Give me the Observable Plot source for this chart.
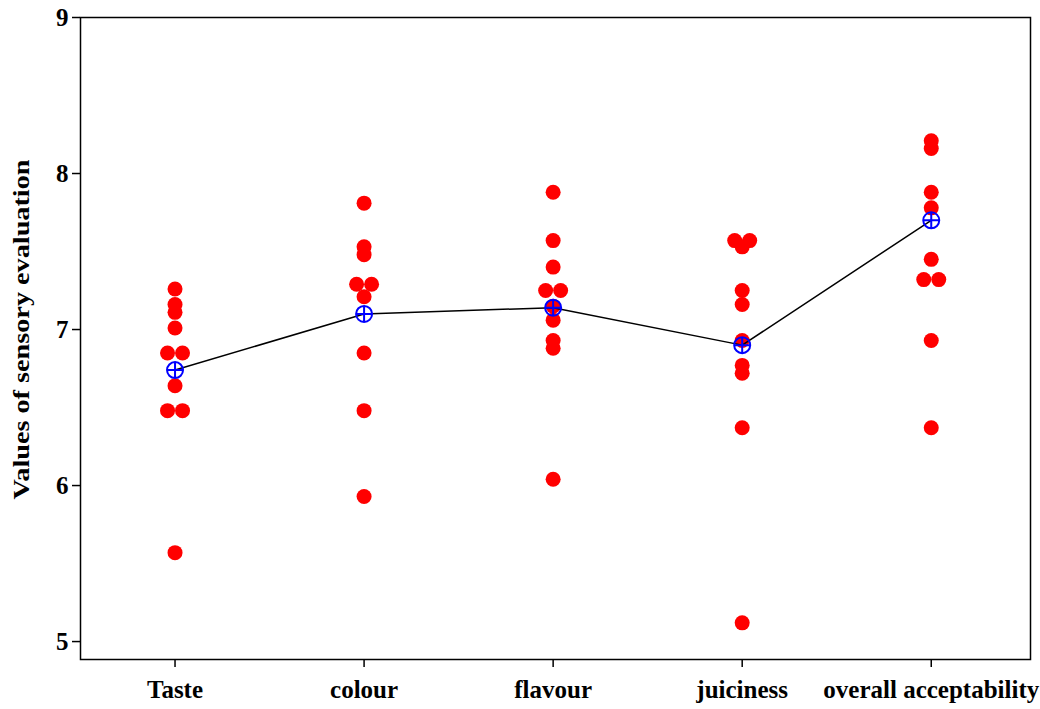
<!DOCTYPE html>
<html>
<head>
<meta charset="utf-8">
<script src="https://cdn.jsdelivr.net/npm/d3@7"></script>
<script src="https://cdn.jsdelivr.net/npm/@observablehq/plot@0.6"></script>
<style>
  html, body { margin: 0; padding: 0; background: #fff; }
  #chart { width: 1040px; height: 709px; }
</style>
</head>
<body>
<div id="chart"></div>
<script>
const categories = ["Taste", "colour", "flavour", "juiciness", "overall acceptability"];
const taste = [7.26, 7.16, 7.11, 7.01, 6.85, 6.85, 6.64, 6.48, 6.48, 5.57];
const colour = [7.81, 7.53, 7.48, 7.29, 7.29, 7.21, 6.85, 6.48, 5.93];
const flavour = [7.88, 7.57, 7.40, 7.25, 7.25, 7.15, 7.06, 6.93, 6.88, 6.04];
const juiciness = [7.57, 7.57, 7.53, 7.25, 7.16, 6.93, 6.77, 6.72, 6.37, 5.12];
const overall = [8.21, 8.16, 7.88, 7.78, 7.45, 7.32, 7.32, 6.93, 6.37];
const means = [6.74, 7.10, 7.14, 6.90, 7.70];
const yTicks = [5, 6, 7, 8, 9];
const yTitle = "Values of sensory evaluation";

const W = 1040, H = 709;
const mL = 80, mR = 10, mT = 17, mB = 50;
const xDomain = [-0.5, categories.length - 0.475];
const step = (W - mL - mR) / (xDomain[1] - xDomain[0]); // px per category
const dotR = 7.5;

// Build individual-value table; identical values are set side by side
const series = [taste, colour, flavour, juiciness, overall];
const points = [];
series.forEach((vals, i) => {
  const groups = d3.group(vals, v => v);
  for (const [v, arr] of groups) {
    const k = arr.length;
    arr.forEach((_, j) => {
      const offPx = (j - (k - 1) / 2) * 2 * dotR;
      points.push({cat: i, value: v, xpos: i + offPx / step});
    });
  }
});
const meanData = means.map((m, i) => ({cat: i, value: m}));

// circle-with-crosshair symbol
const crossCircle = {
  draw(context, size) {
    const r = Math.sqrt(size / Math.PI);
    context.moveTo(r, 0);
    context.arc(0, 0, r, 0, 2 * Math.PI);
    context.moveTo(-r, 0); context.lineTo(r, 0);
    context.moveTo(0, -r); context.lineTo(0, r);
  }
};

const plot = Plot.plot({
  width: W,
  height: H,
  marginLeft: mL,
  marginRight: mR,
  marginTop: mT,
  marginBottom: mB,
  style: {fontFamily: "'Liberation Serif', 'Times New Roman', serif", fontWeight: "bold", color: "black", background: "white"},
  x: {type: "linear", domain: xDomain},
  y: {domain: [4.885, 9]},
  marks: [
    Plot.axisX({ticks: d3.range(categories.length), tickFormat: i => categories[i], tickSize: 8, tickPadding: 13, label: null, strokeWidth: 1.5}),
    Plot.axisY({ticks: yTicks, tickFormat: d3.format("d"), tickSize: 8, tickPadding: 4, label: null, strokeWidth: 1.5}),
    Plot.dot(points, {x: "xpos", y: "value", r: dotR, fill: "#ff0000", stroke: "none"}),
    Plot.line(meanData, {x: "cat", y: "value", stroke: "black", strokeWidth: 1.5}),
    Plot.dot(meanData, {x: "cat", y: "value", r: 8, symbol: crossCircle, stroke: "#0000ff", strokeWidth: 2, fill: "none"}),
    Plot.frame({stroke: "black", strokeWidth: 1.5}),
    Plot.text([yTitle], {frameAnchor: "left", textAnchor: "middle", dx: -59, dy: -9, rotate: -90, fill: "black"})
  ]
});
document.getElementById("chart").appendChild(plot);

// font sizes
const svg = d3.select(plot);
svg.selectAll("text").each(function() {
  const t = d3.select(this);
  const txt = t.text();
  if (categories.includes(txt)) t.style("font-size", "25px");
  else if (/^\d$/.test(txt)) t.style("font-size", "25px");
  else if (txt === yTitle) t.style("font-size", "24px").attr("textLength", 340).attr("lengthAdjust", "spacingAndGlyphs");
});
</script>
</body>
</html>
